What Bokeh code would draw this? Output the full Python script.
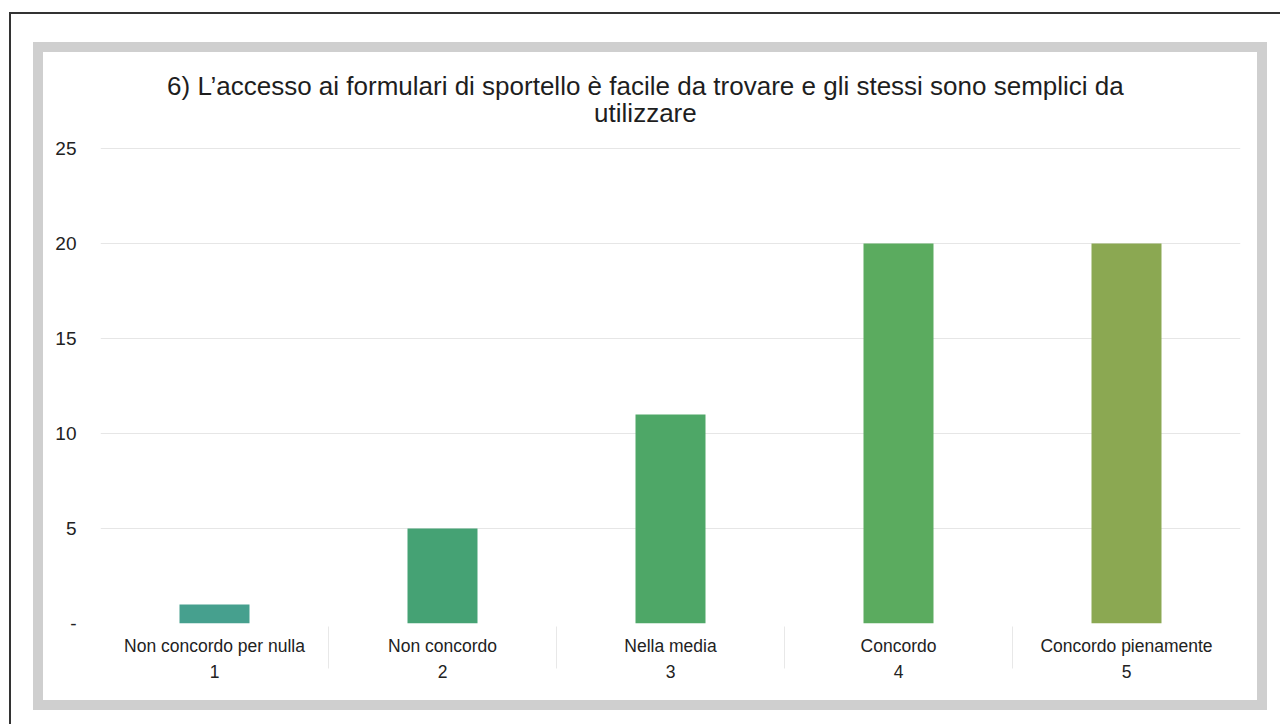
from bokeh.plotting import figure
from bokeh.layouts import column
from bokeh.models import FactorRange, Range1d, FixedTicker, Label, ColumnDataSource
from bokeh.embed import file_html
from bokeh.resources import INLINE

categories = ["Non concordo per nulla", "Non concordo", "Nella media", "Concordo", "Concordo pienamente"]
codes = ["1", "2", "3", "4", "5"]
values = [1, 5, 11, 20, 20]
bar_colors = ["#46a08e", "#45a274", "#4ea767", "#5bab5f", "#8ba852"]
y_ticks = [0, 5, 10, 15, 20, 25]
title_line1 = "6) L’accesso ai formulari di sportello è facile da trovare e gli stessi sono semplici da"
title_line2 = "utilizzare"

factors = [(c, n) for c, n in zip(codes, categories)]
src = ColumnDataSource(dict(x=factors, top=values, color=bar_colors))

FONT = "Liberation Sans, Arial, sans-serif"

# y range extends above the top tick to leave room for the two-line title inside the frame
p = figure(width=1214, height=648, output_backend="svg", toolbar_location=None,
           x_range=FactorRange(factors=factors, range_padding=0, group_padding=0, factor_padding=0),
           y_range=Range1d(0, 29.53), title=None,
           min_border_left=57, min_border_right=17, min_border_top=10, min_border_bottom=77)
p.outline_line_color = None
p.background_fill_color = "white"
p.border_fill_color = "white"

p.vbar(x="x", top="top", width=0.307, color="color", source=src, line_color=None)

for txt, ypos in ((title_line1, 28.3), (title_line2, 26.85)):
    p.add_layout(Label(x=2.39, y=ypos, text=txt,
                       text_align="center", text_baseline="middle", text_font=FONT,
                       text_font_size="26px", text_color="#1e1e1e"))

ya = p.yaxis[0]
ya.ticker = FixedTicker(ticks=y_ticks)
ya.major_label_overrides = {0: "-"}
ya.axis_line_color = None
ya.major_tick_line_color = None
ya.minor_tick_line_color = None
ya.major_label_standoff = 18
ya.major_label_text_font = FONT
ya.major_label_text_font_size = "19px"
ya.major_label_text_color = "#222222"

xa = p.xaxis[0]
xa.axis_line_color = None
xa.major_tick_line_color = None
xa.major_label_standoff = 6
xa.major_label_text_font = FONT
xa.major_label_text_font_size = "17.5px"
xa.major_label_text_color = "#222222"
xa.group_text_font = FONT
xa.group_text_font_size = "17.5px"
xa.group_text_font_style = "normal"
xa.group_text_color = "#222222"
xa.separator_line_color = "#e8e8e8"
xa.separator_line_width = 1

p.xgrid.grid_line_color = None
p.ygrid.ticker = FixedTicker(ticks=y_ticks[1:])
p.ygrid.grid_line_color = "#e6e6e6"
p.ygrid.grid_line_width = 1

frame_box = column(p, styles={"border": "10px solid #cfcfcf"})
page = column(frame_box, styles={"border-top": "2px solid #333333", "border-left": "2px solid #333333",
                                 "margin-left": "9px", "margin-top": "12px",
                                 "padding-left": "22px", "padding-top": "28px",
                                 "padding-right": "13px", "padding-bottom": "14px"})

open("out.html", "w").write(file_html(page, INLINE))
